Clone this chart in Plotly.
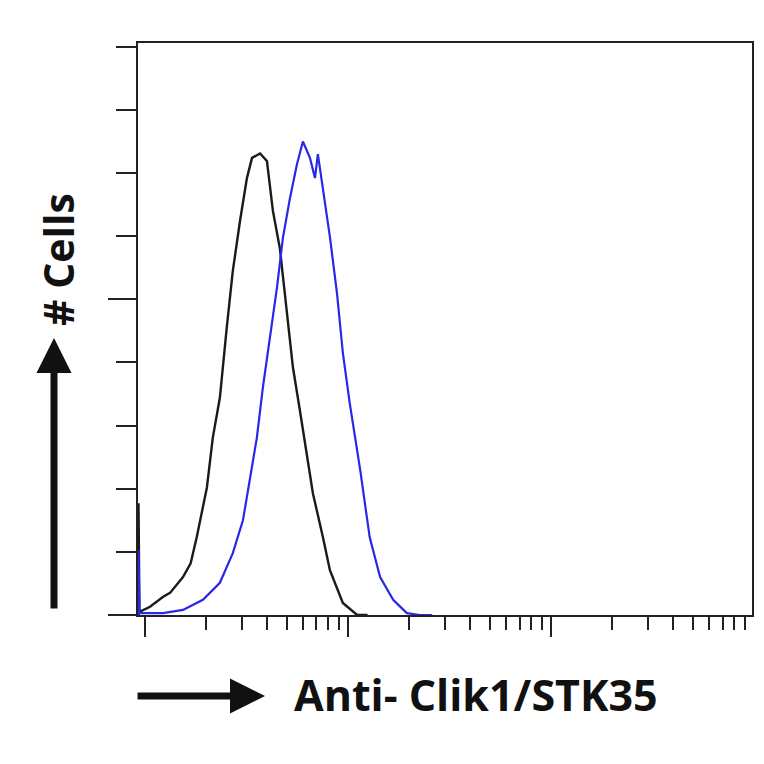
import plotly.graph_objects as go

# Isotype control (black) histogram: intensity (log scale) vs cell count
control_x = [0.93, 0.93, 0.94, 1.06, 1.23, 1.33, 1.54, 1.68, 1.80, 2.02, 2.16, 2.34, 2.53, 2.71,
             2.94, 3.18, 3.37, 3.69, 3.99, 4.27, 4.62, 5.01, 5.36, 5.80, 6.28, 6.72,
             7.53, 8.15, 9.44, 11.1, 12.5]
control_y = [0, 17.7, 0.5, 1.3, 2.9, 3.5, 6.0, 8.2, 12.3, 20.2, 28.1, 34.4, 45.5, 54.5,
             62.4, 69.2, 72.4, 73.1, 71.9, 64.0, 58.1, 47.7, 39.2, 32.4, 25.6, 19.3,
             12.3, 7.1, 1.9, 0, 0]

# Anti-Clik1/STK35 stained (blue) histogram
stained_x = [0.93, 0.93, 0.94, 1.23, 1.54, 1.93, 2.34, 2.71, 3.04, 3.29, 3.56, 3.81, 4.13,
             4.47, 4.78, 5.18, 5.61, 6.00, 6.50, 6.88, 7.11, 7.53, 8.15, 8.83, 9.44,
             10.2, 11.5, 12.8, 14.4, 16.7, 19.5, 22.6, 26.0]
stained_y = [0, 10.3, 0.3, 0.3, 0.8, 2.4, 5.1, 9.8, 15.0, 21.3, 28.1, 36.0, 43.9,
             51.8, 59.7, 66.0, 71.4, 75.0, 72.4, 69.2, 73.0, 67.8, 59.9, 51.0, 41.5,
             33.6, 22.9, 12.3, 6.0, 2.4, 0.3, 0, 0]

x_major_ticks = [1, 10, 100, 1000]
x_minor_ticks = [m * d for d in (1, 10, 100) for m in range(2, 10)]
y_major_ticks = [0, 50]
y_minor_ticks = [10, 20, 30, 40, 60, 70, 80, 90]

x_label = "Anti- Clik1/STK35"
y_label = "# Cells"

# page offset (browser body margin)
OFF = 8
L, R, T, B = 138, 752, 43, 615
PW, PH = R - L, B - T

def px(xpix):
    return (xpix - L) / PW

def py(ypix):
    return (B - ypix) / PH

fig = go.Figure()
fig.add_trace(go.Scatter(x=control_x, y=control_y, mode="lines",
                         line=dict(color="#1a1a1a", width=2.4), showlegend=False))
fig.add_trace(go.Scatter(x=stained_x, y=stained_y, mode="lines",
                         line=dict(color="#2828e6", width=2.2), showlegend=False))

fig.update_layout(
    width=764, height=764,
    margin=dict(l=L - OFF, r=764 - R + OFF, t=T - OFF, b=764 - B + OFF),
    paper_bgcolor="white", plot_bgcolor="white",
    font=dict(family="Open Sans", color="black"),
    xaxis=dict(type="log", range=[-0.034, 2.99], showgrid=False, zeroline=False,
               showline=True, linecolor="#222", linewidth=2, mirror=True,
               tickmode="array", tickvals=x_major_ticks, ticks="outside",
               ticklen=20, tickwidth=2, tickcolor="#222", showticklabels=False,
               minor=dict(tickmode="array", tickvals=x_minor_ticks, ticks="outside",
                          ticklen=13, tickwidth=2, tickcolor="#222", showgrid=False)),
    yaxis=dict(range=[0, 90.6], showgrid=False, zeroline=False,
               showline=True, linecolor="#222", linewidth=2, mirror=True,
               tickmode="array", tickvals=y_major_ticks, ticks="outside",
               ticklen=28, tickwidth=2, tickcolor="#222", showticklabels=False,
               minor=dict(tickmode="array", tickvals=y_minor_ticks, ticks="outside",
                          ticklen=20, tickwidth=2, tickcolor="#222", showgrid=False)),
)

# x-axis label with arrow
fig.add_annotation(text="<b>" + x_label + "</b>", xref="paper", yref="paper",
                   x=px(292), y=py(694), xanchor="left", yanchor="middle",
                   showarrow=False, font=dict(size=43, family="Open Sans", color="#111"))
fig.add_annotation(text="", xref="paper", yref="paper",
                   x=px(265), y=py(696),
                   ax=-129, ay=0, showarrow=True, arrowhead=2, arrowsize=1.0,
                   arrowwidth=7, arrowcolor="#111")

# y-axis label with arrow
fig.add_annotation(text="<b>" + y_label + "</b>", xref="paper", yref="paper",
                   x=px(58), y=py(260), xanchor="center", yanchor="middle",
                   textangle=-90, showarrow=False,
                   font=dict(size=41, family="Open Sans", color="#111"))
fig.add_annotation(text="", xref="paper", yref="paper",
                   x=px(54), y=py(338),
                   ax=0, ay=272, showarrow=True, arrowhead=2, arrowsize=1.0,
                   arrowwidth=7, arrowcolor="#111")

fig.write_html("out.html")
